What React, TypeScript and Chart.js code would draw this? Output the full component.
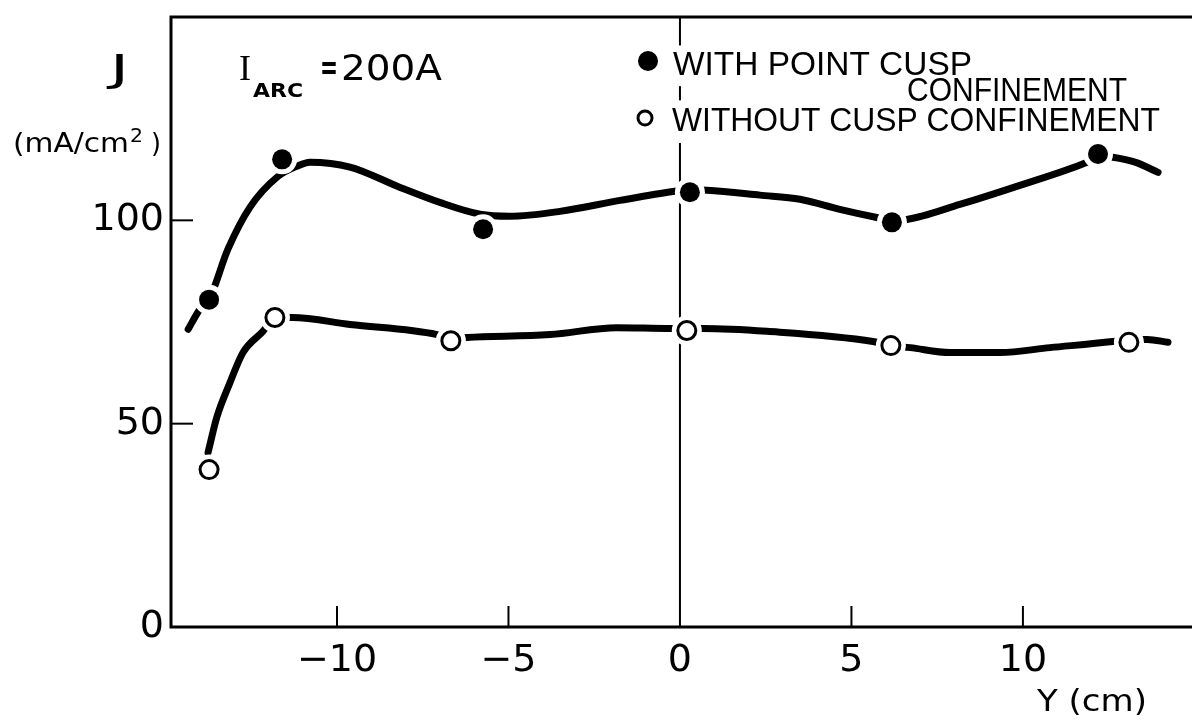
import React, { useEffect, useRef } from "react";
import { Chart, registerables } from "chart.js";

Chart.register(...registerables);

// Measured points
const withCuspX = [-13.73, -11.6, -5.74, 0.29, 6.18, 12.19];
const withCuspY = [80.5, 115.0, 97.8, 106.9, 99.5, 116.3];
const withoutCuspX = [-13.73, -11.81, -6.68, 0.2, 6.15, 13.09];
const withoutCuspY = [38.7, 76.1, 70.4, 72.9, 69.2, 70.0];

// Hand-drawn fitted curves
const withCurveX = [-14.34, -14.0, -13.73, -13.18, -12.54, -11.72, -11.17, -10.79, -9.62, -8.16, -7.0, -5.83, -4.96, -3.5, -1.75, -0.2, 0.29, 0.79, 2.33, 3.5, 4.66, 5.74, 6.18, 6.62, 8.16, 9.91, 11.87, 12.24, 12.62, 13.27, 13.94];
const withCurveY = [73.2, 78.1, 80.5, 92.9, 103.2, 110.8, 113.3, 114.3, 113.1, 108.1, 104.4, 101.5, 101.0, 102.2, 104.9, 107.1, 107.6, 107.4, 106.2, 105.2, 102.7, 100.7, 100.0, 100.2, 103.9, 108.6, 114.3, 115.8, 115.5, 114.3, 111.8];
const withoutCurveX = [-13.76, -13.5, -13.12, -12.74, -12.16, -11.81, -11.31, -9.62, -7.08, -6.68, -6.21, -3.79, -1.84, -0.29, 0.2, 0.67, 2.54, 5.63, 6.15, 6.71, 7.87, 9.33, 10.79, 12.62, 13.09, 13.62, 14.23];
const withoutCurveY = [42.9, 51.7, 60.1, 67.5, 72.7, 76.1, 76.1, 74.4, 71.9, 70.9, 71.2, 71.9, 73.6, 73.4, 73.4, 73.4, 72.7, 70.2, 69.2, 68.7, 67.5, 67.5, 68.7, 70.2, 70.7, 70.7, 70.0];

const xTicks = [-10, -5, 0, 5, 10];
const yTicks = [0, 50, 100];
const xLimits = [-14.84, 14.93];
const yLimits = [0, 150];

const legendLabels = ["WITH POINT CUSP", "CONFINEMENT", "WITHOUT CUSP CONFINEMENT"];
const yTitle = ["J", "(mA/cm", "2", ")"];
const xTitle = "Y (cm)";
const arcLabel = ["I", "ARC", "=", "200A"];

const zip = (xs: number[], ys: number[]) => xs.map((x, i) => ({ x, y: ys[i] }));

function fitText(ctx: CanvasRenderingContext2D, text: string, x: number, yBase: number, width: number, font: string) {
  ctx.save();
  ctx.font = font;
  ctx.textAlign = "left";
  ctx.textBaseline = "alphabetic";
  const w = ctx.measureText(text).width;
  ctx.translate(x, yBase);
  ctx.scale(width / w, 1);
  ctx.fillText(text, 0, 0);
  ctx.restore();
}

const framePlugin = {
  id: "frame",
  beforeDatasetsDraw(chart: any) {
    const { ctx, scales } = chart;
    const xs = scales.x, ys = scales.y;
    const x0 = xs.getPixelForValue(0);
    ctx.save();
    ctx.strokeStyle = "#000";
    ctx.lineWidth = 2;
    const segs = [[150, 143], [133, 129.5], [119, 0]];
    segs.forEach(([a, b]) => {
      ctx.beginPath();
      ctx.moveTo(x0, ys.getPixelForValue(a));
      ctx.lineTo(x0, ys.getPixelForValue(b));
      ctx.stroke();
    });
    ctx.restore();
  },
  afterDatasetsDraw(chart: any) {
    const { ctx, chartArea, scales } = chart;
    const { left, right, top, bottom } = chartArea;
    const xs = scales.x, ys = scales.y;
    ctx.save();
    ctx.strokeStyle = "#000";
    ctx.fillStyle = "#000";
    ctx.lineWidth = 3;
    ctx.beginPath();
    ctx.moveTo(right + 5, top);
    ctx.lineTo(left, top);
    ctx.lineTo(left, bottom);
    ctx.lineTo(right + 5, bottom);
    ctx.stroke();
    ctx.lineWidth = 2;
    xTicks.forEach((v) => {
      if (v === 0) return;
      const p = xs.getPixelForValue(v);
      ctx.beginPath();
      ctx.moveTo(p, bottom);
      ctx.lineTo(p, bottom - 21);
      ctx.stroke();
    });
    yTicks.forEach((v) => {
      if (v === 0) return;
      const p = ys.getPixelForValue(v);
      ctx.beginPath();
      ctx.moveTo(left, p);
      ctx.lineTo(left + 22, p);
      ctx.stroke();
    });

    // Y axis title
    fitText(ctx, yTitle[0], 110, 81, 19, "38px 'DejaVu Sans'");
    fitText(ctx, yTitle[1], 13, 152, 116, "27px 'DejaVu Sans'");
    fitText(ctx, yTitle[2], 130, 142, 13, "19px 'DejaVu Sans'");
    fitText(ctx, yTitle[3], 151, 152, 10, "27px 'DejaVu Sans'");

    // X axis title
    fitText(ctx, xTitle, 1037, 711, 110, "30px 'DejaVu Sans'");

    // I_ARC = 200A
    fitText(ctx, arcLabel[0], 239, 80, 12, "35px 'Liberation Serif'");
    fitText(ctx, arcLabel[1], 253, 97, 50, "bold 19px 'DejaVu Sans'");
    fitText(ctx, arcLabel[2], 320, 79, 18, "bold 34px 'DejaVu Sans'");
    fitText(ctx, arcLabel[3], 341, 80, 101, "35px 'DejaVu Sans'");

    // Legend
    ctx.beginPath();
    ctx.arc(648, 61, 10, 0, Math.PI * 2);
    ctx.fill();
    ctx.beginPath();
    ctx.lineWidth = 3;
    ctx.arc(645, 118, 7, 0, Math.PI * 2);
    ctx.stroke();
    fitText(ctx, legendLabels[0], 673, 75, 299, "34px 'Liberation Sans'");
    fitText(ctx, legendLabels[1], 907, 101, 220, "34px 'Liberation Sans'");
    fitText(ctx, legendLabels[2], 672, 131, 488, "34px 'Liberation Sans'");
    ctx.restore();
  },
};

export default function App() {
  const ref = useRef<HTMLCanvasElement | null>(null);
  useEffect(() => {
    if (!ref.current) return;
    const withPts = zip(withCuspX, withCuspY);
    const withoutPts = zip(withoutCuspX, withoutCuspY);
    const chart = new Chart(ref.current, {
      type: "scatter",
      data: {
        datasets: [
          {
            label: "with curve",
            data: zip(withCurveX, withCurveY),
            showLine: true,
            borderColor: "#000",
            borderWidth: 7,
            pointRadius: 0,
            cubicInterpolationMode: "monotone",
            borderCapStyle: "round",
            order: 5,
          } as any,
          {
            label: "without curve",
            data: zip(withoutCurveX, withoutCurveY),
            showLine: true,
            borderColor: "#000",
            borderWidth: 7,
            pointRadius: 0,
            cubicInterpolationMode: "monotone",
            borderCapStyle: "round",
            order: 5,
          } as any,
          {
            label: "with halo",
            data: withPts,
            pointRadius: 15,
            pointBackgroundColor: "#fff",
            pointBorderWidth: 0,
            showLine: false,
            order: 3,
          },
          {
            label: "without halo",
            data: withoutPts,
            pointRadius: 15,
            pointBackgroundColor: "#fff",
            pointBorderWidth: 0,
            showLine: false,
            order: 3,
          },
          {
            label: "WITH POINT CUSP CONFINEMENT",
            data: withPts,
            pointRadius: 10,
            pointBackgroundColor: "#000",
            pointBorderColor: "#000",
            pointBorderWidth: 0,
            showLine: false,
            order: 1,
          },
          {
            label: "WITHOUT CUSP CONFINEMENT",
            data: withoutPts,
            pointRadius: 9,
            pointBackgroundColor: "#fff",
            pointBorderColor: "#000",
            pointBorderWidth: 3,
            showLine: false,
            order: 1,
          },
        ],
      },
      options: {
        responsive: false,
        animation: false,
        layout: { autoPadding: false, padding: { top: 17, right: 0, left: 0, bottom: 0 } },
        plugins: { legend: { display: false }, tooltip: { enabled: false }, title: { display: false } },
        scales: {
          x: {
            type: "linear",
            min: xLimits[0],
            max: xLimits[1],
            grid: { display: false, drawTicks: false },
            border: { display: false },
            afterBuildTicks: (axis: any) => {
              axis.ticks = xTicks.map((v) => ({ value: v }));
            },
            afterFit: (scale: any) => {
              scale.height = 95;
              scale.paddingLeft = 0;
              scale.paddingRight = 0;
            },
            ticks: {
              color: "#000",
              padding: 11,
              font: { family: "'DejaVu Sans'", size: 38 },
              callback: (v: any) => (Number(v) < 0 ? "\u2212" + Math.abs(Number(v)) : String(v)),
            },
          },
          y: {
            type: "linear",
            min: yLimits[0],
            max: yLimits[1],
            grid: { display: false, drawTicks: false },
            border: { display: false },
            afterBuildTicks: (axis: any) => {
              axis.ticks = yTicks.map((v) => ({ value: v }));
            },
            afterFit: (scale: any) => {
              scale.width = 171;
              scale.paddingTop = 0;
              scale.paddingBottom = 0;
            },
            ticks: {
              color: "#000",
              padding: 7,
              font: { family: "'DejaVu Sans'", size: 38 },
            },
          },
        },
      },
      plugins: [framePlugin],
    });
    return () => chart.destroy();
  }, []);
  return (
    <div style={{ position: "absolute", left: 0, top: 0, width: 1192, height: 722, background: "#fff" }}>
      <canvas ref={ref} width={1192} height={722} />
    </div>
  );
}
